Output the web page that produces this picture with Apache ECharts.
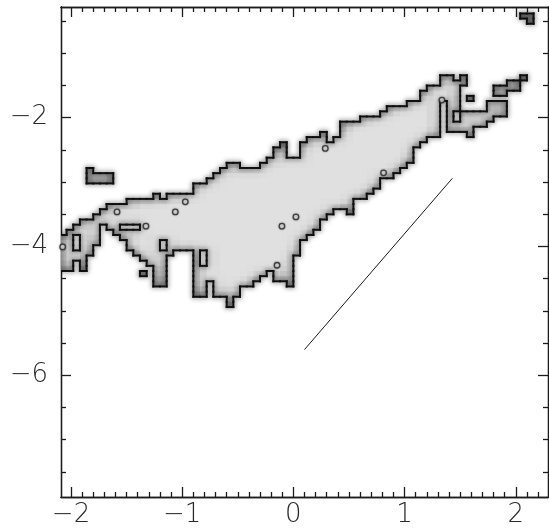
<!DOCTYPE html>
<html>
<head>
<meta charset="utf-8">
<script src="https://cdn.jsdelivr.net/npm/echarts@6/dist/echarts.min.js"></script>
<style>
  html, body { margin: 0; padding: 0; background: #ffffff; }
  #chart { width: 549px; height: 529px; }
</style>
</head>
<body>
<div id="chart"></div>
<script>
// ---- axes ----
const xRange = [-2.09, 2.29];
const yRange = [-7.89, -0.28];
const xMajorTicks = [-2, -1, 0, 1, 2];
const yMajorTicks = [-6, -4, -2];
const xMinorStep = 0.1;
const yMinorStep = 0.5;

// ---- cell grid of the thresholded map ----
// column c spans x = cellX0 + c*cellDX ... ; row r spans y = cellY0 - r*cellDY ... (rows run downward)
const cellX0 = -2.10, cellDX = 0.06;
const cellY0 = -0.30, cellDY = 0.08;

// rows above threshold in each column, as [firstRow, lastRow] runs
const columnRuns = [
  [[44, 50]],                 // 0
  [[43, 50]],                 // 1
  [[42, 48]],                 // 2
  [[41, 50]],                 // 3
  [[31, 33], [41, 47]],       // 4
  [[32, 33], [40, 45]],       // 5
  [[32, 33], [39, 41]],       // 6
  [[32, 33], [38, 42]],       // 7
  [[38, 43]],                 // 8
  [[38, 44]],                 // 9
  [[37, 46]],                 // 10
  [[37, 47]],                 // 11
  [[37, 48], [51, 51]],       // 12
  [[37, 49]],                 // 13
  [[36, 53]],                 // 14
  [[37, 53]],                 // 15
  [[36, 47]],                 // 16
  [[36, 46]],                 // 17
  [[36, 46]],                 // 18
  [[36, 46]],                 // 19
  [[34, 55]],                 // 20
  [[34, 46], [50, 55]],       // 21
  [[33, 52]],                 // 22
  [[32, 55]],                 // 23
  [[31, 55]],                 // 24
  [[30, 57]],                 // 25
  [[30, 55]],                 // 26
  [[31, 53]],                 // 27
  [[31, 53]],                 // 28
  [[31, 52]],                 // 29
  [[30, 51]],                 // 30
  [[29, 50]],                 // 31
  [[27, 52]],                 // 32
  [[26, 52]],                 // 33
  [[29, 53]],                 // 34
  [[29, 47]],                 // 35
  [[26, 44]],                 // 36
  [[25, 43]],                 // 37
  [[25, 42]],                 // 38
  [[24, 40]],                 // 39
  [[26, 39]],                 // 40
  [[25, 38]],                 // 41
  [[22, 38]],                 // 42
  [[22, 39]],                 // 43
  [[22, 36]],                 // 44
  [[21, 36]],                 // 45
  [[21, 35]],                 // 46
  [[21, 34]],                 // 47
  [[20, 32]],                 // 48
  [[19, 32]],                 // 49
  [[19, 31]],                 // 50
  [[19, 30]],                 // 51
  [[18, 29]],                 // 52
  [[18, 26]],                 // 53
  [[16, 25]],                 // 54
  [[15, 24]],                 // 55
  [[15, 24]],                 // 56
  [[13, 17]],                 // 57
  [[13, 23]],                 // 58
  [[14, 19], [22, 23]],       // 59
  [[13, 14], [20, 23]],       // 60
  [[17, 17], [20, 24]],       // 61
  [[20, 22]],                 // 62
  [[20, 22]],                 // 63
  [[18, 21]],                 // 64
  [[15, 16], [18, 20]],       // 65
  [[15, 16], [18, 20]],       // 66
  [[14, 15]],                 // 67
  [[14, 15]],                 // 68
  [[1, 1], [13, 13]],         // 69
  [[1, 2]]                    // 70
];

// cells below threshold inside the region: [column, row]
const holeCells = [
  [2, 44], [2, 45], [2, 46],
  [15, 45], [15, 46],
  [9, 42], [10, 42], [11, 42]
];

// isolated single-point dips
const dotX = [-1.586, -1.062, -0.972, -1.326, -2.075, -0.103, 0.023, -0.147, 0.287, 0.811, 1.336];
const dotY = [-3.462, -3.462, -3.306, -3.684, -4.006, -3.684, -3.540, -4.291, -2.476, -2.855, -1.725];

// reference line
const lineX = [0.10, 1.43];
const lineY = [-5.60, -2.94];

// ---- build cell set ----
const inside = new Set();
const key = (c, r) => c + ',' + r;
columnRuns.forEach((runs, c) => {
  runs.forEach(([a, b]) => { for (let r = a; r <= b; r++) inside.add(key(c, r)); });
});
holeCells.forEach(([c, r]) => inside.delete(key(c, r)));

const fillData = [];
const edgeData = [];
inside.forEach(k => {
  const [c, r] = k.split(',').map(Number);
  let n = 0;
  for (let dc = -2; dc <= 2; dc++) for (let dr = -2; dr <= 2; dr++) if (inside.has(key(c + dc, r + dr))) n++;
  const frac = n / 25;
  const g = Math.round(224 - 115 * Math.pow(1 - frac, 1.5));
  const cx = cellX0 + (c + 0.5) * cellDX;
  const cy = cellY0 - (r + 0.5) * cellDY;
  fillData.push([cx, cy, g]);
  let flags = 0;
  if (!inside.has(key(c, r - 1))) flags |= 1;  // top
  if (!inside.has(key(c + 1, r))) flags |= 2;  // right
  if (!inside.has(key(c, r + 1))) flags |= 4;  // bottom
  if (!inside.has(key(c - 1, r))) flags |= 8;  // left
  if (flags) edgeData.push([cx, cy, flags]);
});

function cellCorners(api) {
  const x = api.value(0), y = api.value(1);
  const p0 = api.coord([x - cellDX / 2, y + cellDY / 2]);
  const p1 = api.coord([x + cellDX / 2, y - cellDY / 2]);
  return [p0, p1];
}

function renderFill(params, api) {
  const [p0, p1] = cellCorners(api);
  const g = api.value(2);
  return {
    type: 'rect',
    shape: { x: p0[0], y: p0[1], width: p1[0] - p0[0] + 0.7, height: p1[1] - p0[1] + 0.7 },
    style: { fill: 'rgb(' + g + ',' + g + ',' + g + ')' }
  };
}

function renderEdge(params, api) {
  const [p0, p1] = cellCorners(api);
  const f = api.value(2);
  const segs = [];
  if (f & 1) segs.push([p0[0], p0[1], p1[0], p0[1]]);
  if (f & 2) segs.push([p1[0], p0[1], p1[0], p1[1]]);
  if (f & 4) segs.push([p0[0], p1[1], p1[0], p1[1]]);
  if (f & 8) segs.push([p0[0], p0[1], p0[0], p1[1]]);
  return {
    type: 'group',
    children: segs.map(s => ({
      type: 'line',
      shape: { x1: s[0], y1: s[1], x2: s[2], y2: s[3] },
      style: {
        stroke: '#111111', lineWidth: 2, lineCap: 'square',
        shadowBlur: 5, shadowColor: 'rgba(0,0,0,0.6)'
      }
    }))
  };
}

// ---- tick positions ----
function minorValues(lo, hi, step, majors) {
  const out = [];
  const start = Math.ceil(lo / step - 1e-9);
  const end = Math.floor(hi / step + 1e-9);
  for (let i = start; i <= end; i++) {
    const v = Math.round(i * step * 1000) / 1000;
    if (v <= lo + 1e-6 || v >= hi - 1e-6) continue;
    if (majors.some(m => Math.abs(m - v) < 1e-6)) continue;
    out.push(v);
  }
  return out;
}
const xMinorTicks = minorValues(xRange[0], xRange[1], xMinorStep, xMajorTicks);
const yMinorTicks = minorValues(yRange[0], yRange[1], yMinorStep, yMajorTicks);

const inkColor = '#1c1c1c';
const labelFont = { fontFamily: 'DejaVu Sans', fontWeight: 200, fontSize: 26, color: '#2a2a2a' };
const fmt = v => (v < 0 ? '\u2212' : '') + Math.abs(v);

function makeAxis(range, position, ticks, len, labelMargin) {
  return {
    type: 'value',
    min: range[0], max: range[1],
    position: position,
    axisLine: { show: true, onZero: false, lineStyle: { color: inkColor, width: 1.3 } },
    axisTick: { show: true, inside: true, length: len, customValues: ticks, lineStyle: { color: inkColor, width: 1.3 } },
    axisLabel: labelMargin == null ? { show: false } : Object.assign({
      show: true, customValues: ticks, margin: labelMargin, formatter: fmt,
      showMinLabel: true, showMaxLabel: true
    }, labelFont),
    splitLine: { show: false },
    minorTick: { show: false },
    minorSplitLine: { show: false }
  };
}

const chart = echarts.init(document.getElementById('chart'), null, { renderer: 'canvas' });
chart.setOption({
  backgroundColor: '#ffffff',
  animation: false,
  grid: { left: 61, right: 1, top: 7, bottom: 32, containLabel: false, outerBoundsMode: 'none' },
  xAxis: [
    makeAxis(xRange, 'bottom', xMajorTicks, 10, 5),
    makeAxis(xRange, 'bottom', xMinorTicks, 5, null),
    makeAxis(xRange, 'top', xMajorTicks, 10, null),
    makeAxis(xRange, 'top', xMinorTicks, 5, null)
  ],
  yAxis: [
    makeAxis(yRange, 'left', yMajorTicks, 10, 13),
    makeAxis(yRange, 'left', yMinorTicks, 5, null),
    makeAxis(yRange, 'right', yMajorTicks, 10, null),
    makeAxis(yRange, 'right', yMinorTicks, 5, null)
  ],
  series: [
    {
      type: 'custom', name: 'fill', xAxisIndex: 0, yAxisIndex: 0,
      clip: true, silent: true,
      renderItem: renderFill, encode: { x: 0, y: 1 },
      data: fillData, z: 1
    },
    {
      type: 'custom', name: 'contour', xAxisIndex: 0, yAxisIndex: 0,
      clip: true, silent: true,
      renderItem: renderEdge, encode: { x: 0, y: 1 },
      data: edgeData, z: 2
    },
    {
      type: 'scatter', name: 'dips', xAxisIndex: 0, yAxisIndex: 0,
      silent: true, symbol: 'circle', symbolSize: 5.5,
      itemStyle: { color: '#e6e6e6', borderColor: '#262626', borderWidth: 1.3, shadowBlur: 2, shadowColor: 'rgba(0,0,0,0.4)' },
      data: dotX.map((x, i) => [x, dotY[i]]), z: 3
    },
    {
      type: 'line', name: 'slope', xAxisIndex: 0, yAxisIndex: 0,
      silent: true, symbol: 'none',
      lineStyle: { color: '#1a1a1a', width: 1 },
      data: lineX.map((x, i) => [x, lineY[i]]), z: 4
    }
  ]
});
</script>
</body>
</html>
